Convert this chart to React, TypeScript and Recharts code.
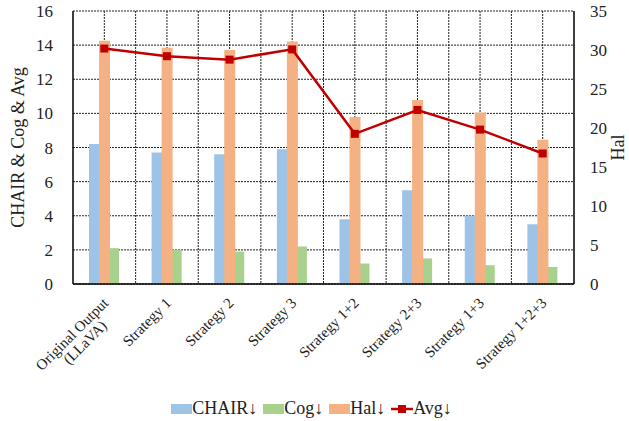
import React from 'react';
import { ComposedChart, Bar, Line, XAxis, YAxis, CartesianGrid, Legend } from 'recharts';

const categories = [
  'Original Output\n(LLaVA)',
  'Strategy 1',
  'Strategy 2',
  'Strategy 3',
  'Strategy 1+2',
  'Strategy 2+3',
  'Strategy 1+3',
  'Strategy 1+2+3',
];
const chair = [8.2, 7.7, 7.6, 7.9, 3.8, 5.5, 4.0, 3.5];
const cog = [2.1, 2.0, 1.9, 2.2, 1.2, 1.5, 1.1, 1.0];
const hal = [31.2, 30.3, 30.0, 31.1, 21.4, 23.6, 22.0, 18.5];
const avg = [13.8, 13.35, 13.15, 13.75, 8.8, 10.2, 9.05, 7.65];

const leftTicks = [0, 2, 4, 6, 8, 10, 12, 14, 16];
const rightTicks = [0, 5, 10, 15, 20, 25, 30, 35];

const COLORS = { chair: '#9DC3E6', cog: '#A9D18E', hal: '#F4B183', avg: '#C00000' };
const FONT = 'Liberation Serif, Times New Roman, serif';

const data = categories.map((name, i) => ({
  name,
  chair: chair[i],
  cog: cog[i],
  hal: hal[i],
  avg: avg[i],
}));

const CategoryTick = (props: any) => {
  const { x, y, payload } = props;
  const lines = String(payload.value).split('\n');
  return (
    <g transform={`translate(${x + 5},${y + 20}) rotate(-45)`}>
      {lines.map((line, i) => (
        <text
          key={i}
          x={i === 0 ? 0 : -17}
          y={i * 15}
          textAnchor="end"
          style={{ fontSize: 15, fontFamily: FONT, fill: '#222' }}
        >
          {line}
        </text>
      ))}
    </g>
  );
};

const SquareDot = (props: any) => {
  const { cx, cy } = props;
  if (cx == null || cy == null) return null;
  return <rect x={cx - 4} y={cy - 4} width={8} height={8} fill={COLORS.avg} />;
};

const AxisTitle = ({ viewBox, value, dx }: any) => {
  const cx = viewBox.x + dx;
  const cy = viewBox.y + viewBox.height / 2;
  return (
    <text
      x={cx}
      y={cy}
      transform={`rotate(-90, ${cx}, ${cy})`}
      textAnchor="middle"
      dominantBaseline="central"
      style={{ fontSize: 18, fontFamily: FONT, fill: '#222' }}
    >
      {value}
    </text>
  );
};

const legendItems = [
  { label: 'CHAIR↓', color: COLORS.chair, kind: 'rect' },
  { label: 'Cog↓', color: COLORS.cog, kind: 'rect' },
  { label: 'Hal↓', color: COLORS.hal, kind: 'rect' },
  { label: 'Avg↓', color: COLORS.avg, kind: 'line' },
];

const ChartLegend = () => (
  <div
    style={{
      display: 'flex',
      justifyContent: 'center',
      alignItems: 'flex-end',
      height: 37,
      paddingBottom: 2,
      boxSizing: 'border-box',
      fontFamily: FONT,
      fontSize: 18,
      color: '#222',
    }}
  >
    {legendItems.map((it) => (
      <div key={it.label} style={{ display: 'flex', alignItems: 'center', marginRight: 6 }}>
        {it.kind === 'rect' ? (
          <span style={{ display: 'inline-block', width: 21, height: 10, background: it.color }} />
        ) : (
          <svg width={22} height={10}>
            <line x1={0} y1={5} x2={22} y2={5} stroke={it.color} strokeWidth={2.5} />
            <rect x={7} y={1} width={8} height={8} fill={it.color} />
          </svg>
        )}
        <span>{it.label}</span>
      </div>
    ))}
  </div>
);

export default function App() {
  return (
    <div style={{ position: 'absolute', left: 0, top: 0, width: 629, height: 421, background: '#fff', fontFamily: FONT }}>
      <ComposedChart
        width={629}
        height={421}
        data={data}
        margin={{ top: 11, right: 0, left: 0, bottom: 0 }}
        barGap={0}
      >
        <CartesianGrid
          yAxisId="left"
          xAxisId="main"
          stroke="#222"
          strokeDasharray="2 1"
          verticalCoordinatesGenerator={({ offset }: any) => {
            const pts: number[] = [];
            for (let k = 1; k < categories.length * 2; k++) pts.push(offset.left + (offset.width * k) / (categories.length * 2));
            return pts;
          }}
        />
        <XAxis
          xAxisId="main"
          dataKey="name"
          interval={0}
          height={100}
          tickLine={false}
          tickSize={0}
          tickMargin={0}
          axisLine={{ stroke: '#000', strokeWidth: 1.5 }}
          tick={<CategoryTick />}
        />
        <XAxis
          xAxisId="hal"
          dataKey="name"
          orientation="top"
          height={0}
          tick={false}
          tickLine={false}
          axisLine={{ stroke: '#000', strokeWidth: 1.5 }}
        />
        <YAxis
          yAxisId="left"
          width={73}
          domain={[0, 16]}
          ticks={leftTicks}
          tickLine={false}
          tickSize={0}
          tickMargin={20}
          axisLine={{ stroke: '#000', strokeWidth: 1.5 }}
          tick={{ fontSize: 17, fontFamily: FONT, fill: '#222' }}
          label={<AxisTitle value="CHAIR & Cog & Avg" dx={18} />}
        />
        <YAxis
          yAxisId="right"
          orientation="right"
          width={55}
          domain={[0, 35]}
          ticks={rightTicks}
          tickLine={false}
          tickSize={0}
          tickMargin={16}
          axisLine={{ stroke: '#000', strokeWidth: 1.5 }}
          tick={{ fontSize: 17, fontFamily: FONT, fill: '#222', textAnchor: 'start' }}
          label={<AxisTitle value="Hal" dx={44} />}
        />
        <Legend verticalAlign="bottom" height={37} content={<ChartLegend />} />
        <Bar xAxisId="main" yAxisId="left" dataKey="chair" name="CHAIR↓" fill={COLORS.chair} barSize={15} isAnimationActive={false} />
        <Bar xAxisId="main" yAxisId="left" dataKey="cog" name="Cog↓" fill={COLORS.cog} barSize={15} isAnimationActive={false} />
        <Bar xAxisId="hal" yAxisId="right" dataKey="hal" name="Hal↓" fill={COLORS.hal} barSize={11} isAnimationActive={false} />
        <Line
          xAxisId="main"
          yAxisId="left"
          type="linear"
          dataKey="avg"
          name="Avg↓"
          stroke={COLORS.avg}
          strokeWidth={2.5}
          dot={<SquareDot />}
          activeDot={false}
          isAnimationActive={false}
        />
      </ComposedChart>
    </div>
  );
}
